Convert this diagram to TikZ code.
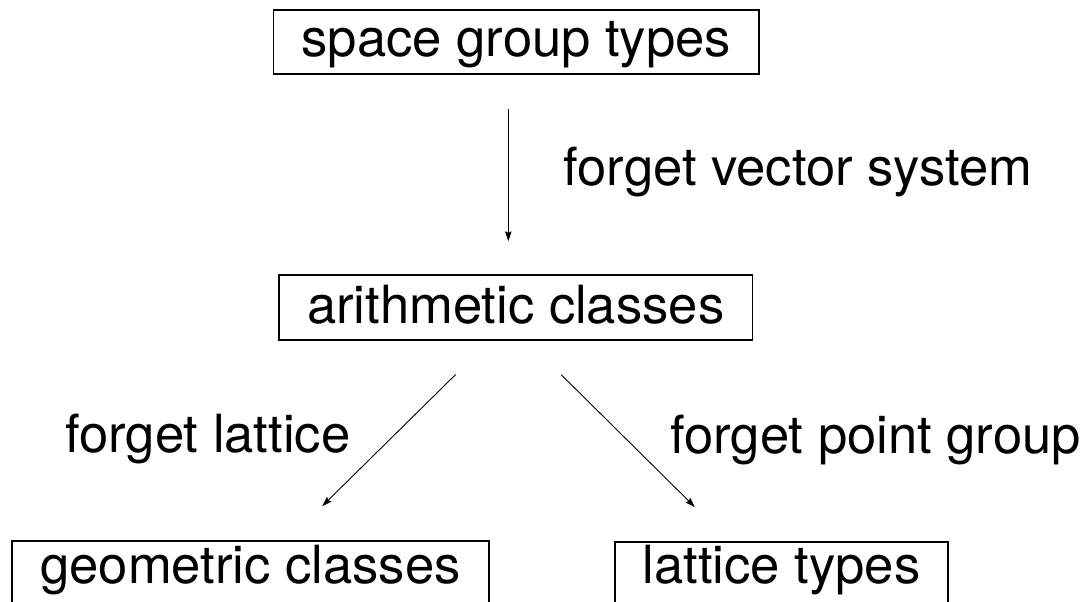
\documentclass[tikz,border=0pt]{standalone}
\usepackage{fontspec}
\setmainfont{TeX Gyre Heros}
\usetikzlibrary{arrows.meta}
\begin{document}
\begin{tikzpicture}[x=1pt,y=-1pt,
  every node/.style={font=\fontsize{52.6}{60}\selectfont},
  box/.style={draw, line width=1.3pt, inner sep=0pt, anchor=base},
  lbl/.style={inner sep=0pt, anchor=base west},
  arr/.style={line width=0.9pt, -{Stealth[length=10pt,width=6.5pt,inset=1.5pt]}}]
\useasboundingbox (0,0) rectangle (1084,602);
\node[box, minimum width=485.5pt, text height=47pt, text depth=17pt] (sg) at (516.3,57) {space group types};
\node[box, minimum width=473.7pt, text height=48.3pt, text depth=16.7pt] (ar) at (515.8,323.3) {arithmetic classes};
\node[box, minimum width=477pt, text height=42pt, text depth=23pt] (ge) at (250.5,583) {geometric classes};
\node[box, minimum width=333pt, text height=41.3pt, text depth=23pt] (la) at (781.5,583.3) {lattice types};
\node[lbl] (l1) at (563.3,185) {forget vector system};
\node[lbl] (l2) at (65,452.7) {forget lattice};
\node[lbl] (l3) at (670,453.3) {forget point group};
\draw[arr, shorten <=34pt, shorten >=33pt] ([xshift=-8pt]sg.south) -- ([xshift=-7.5pt]ar.north);
\draw[arr, shorten <=48.3pt, shorten >=48.7pt] ([xshift=-25.8pt]ar.south) -- ([xshift=37pt]ge.north);
\draw[arr, shorten <=48.3pt, shorten >=48.7pt] ([xshift=11pt]ar.south) -- ([xshift=-52pt]la.north);
\end{tikzpicture}
\end{document}
